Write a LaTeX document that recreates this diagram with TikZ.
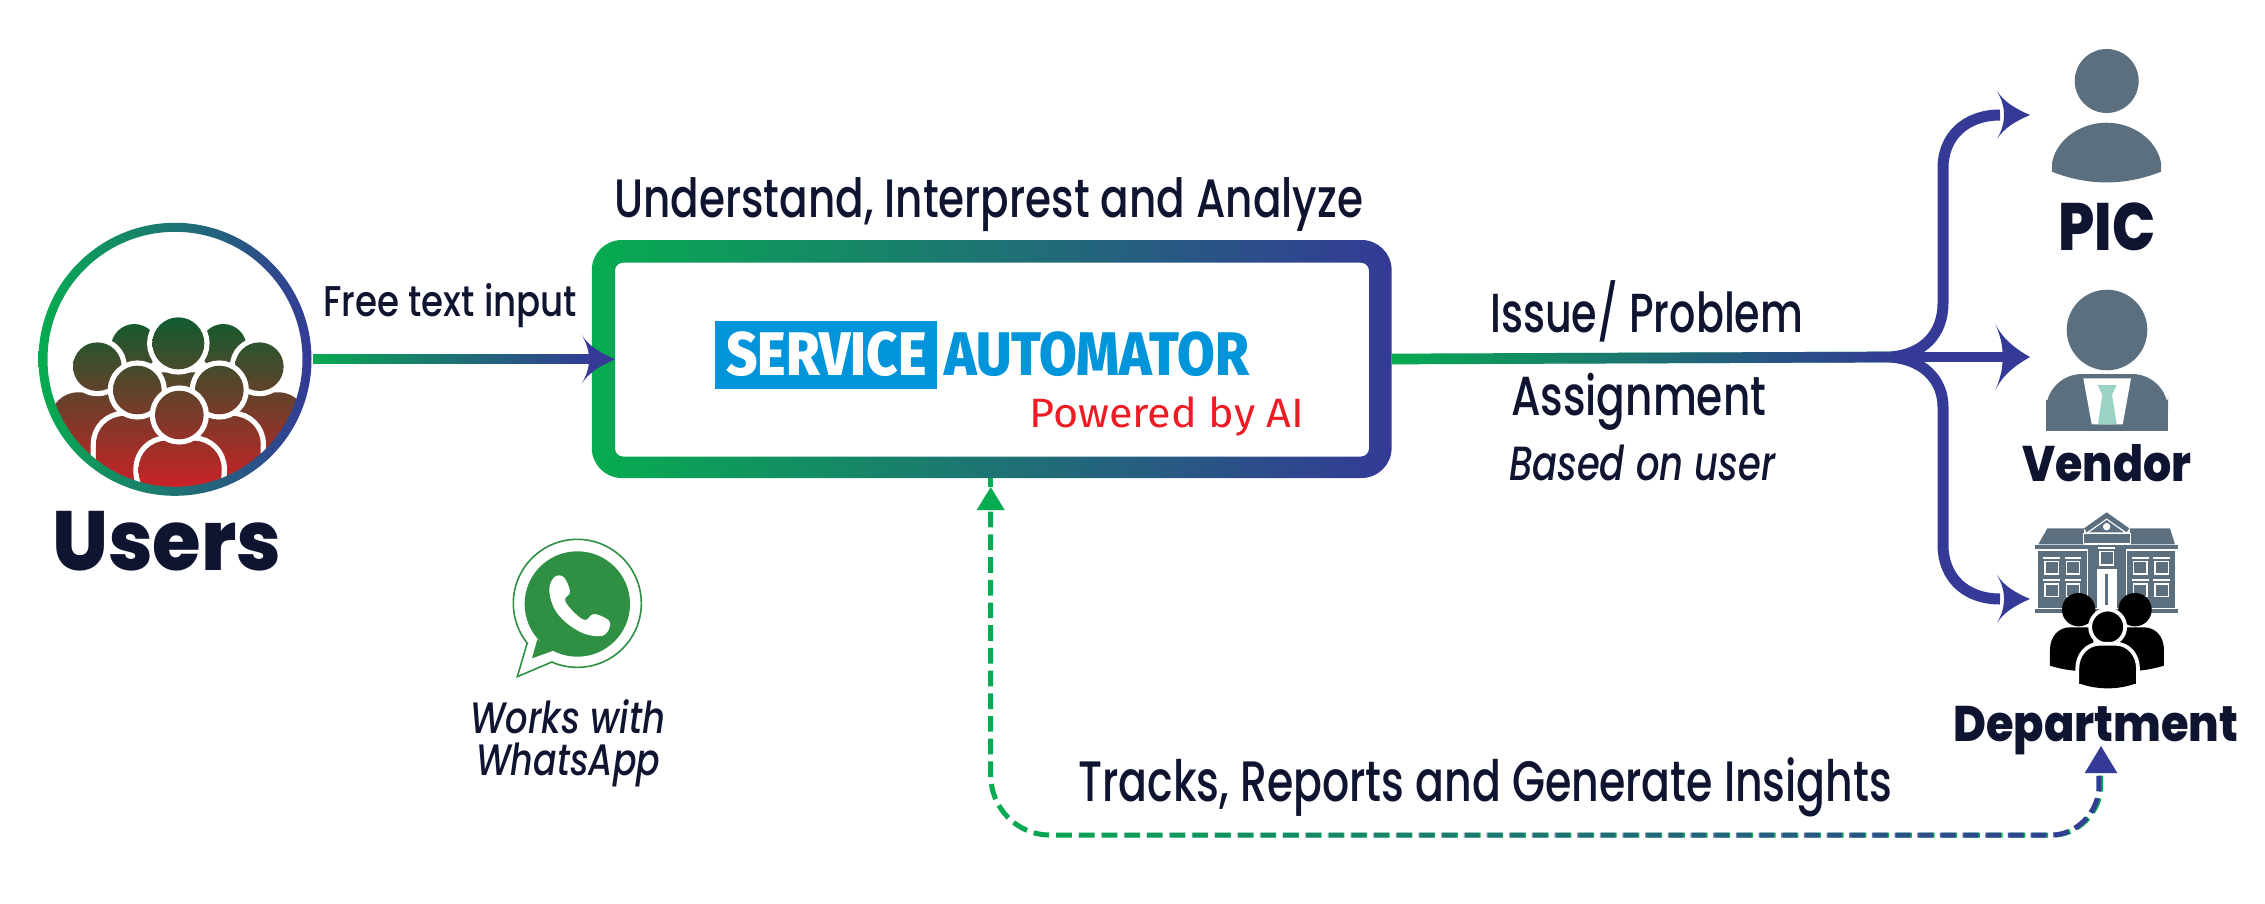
\documentclass[tikz,border=0pt]{standalone}
\usepackage{fontspec}
\usepackage{graphicx}
\usetikzlibrary{calc,fadings}
\setmainfont{Poppins}
\newfontfamily\medf[UprightFont={* Medium},ItalicFont={* Medium Italic}]{Poppins}
\newfontfamily\heavyf[UprightFont={* ExtraBold}]{Poppins}
\newfontfamily\logof{Fira Sans}
\newfontfamily\logoh[UprightFont={* ExtraBold}]{Fira Sans}
\definecolor{gstart}{HTML}{07AC50}
\definecolor{gend}{HTML}{343A96}
\definecolor{ink}{HTML}{0F1430}
\definecolor{slate}{HTML}{5C6F7F}
\definecolor{tie}{HTML}{9AD3C6}
\definecolor{logoblue}{HTML}{0095DA}
\definecolor{aired}{HTML}{ED1C24}
\definecolor{wagreen}{HTML}{2F9044}
\definecolor{pplTop}{HTML}{0F5C2E}
\definecolor{pplBot}{HTML}{C92227}
\tikzfading[name=growright,left color=transparent!100,right color=transparent!0]
\newcommand\tl[7]{\node[lab] (#1) at (#2,#3) {\resizebox{#4pt}{\height}{\fontsize{#5}{#5}\selectfont#6#7}};}
\newcommand\persona[1]{%
  \path[draw=white,line width=10.5pt] #1;
  \begin{scope}\clip #1; \shade[top color=pplTop,bottom color=pplBot] (0,350) rectangle (1100,860); \end{scope}}
\tikzset{
  lab/.style={inner sep=0pt,anchor=base west,text=ink},
  anchorbox/.style={inner sep=0pt,outer sep=0pt},
  gradring/.style={even odd rule,left color=gstart,right color=gend},
  gradbase/.style={draw=gstart,line cap=butt},
  gradtop/.style={draw=gend,line cap=butt,path fading=growright},
  branch/.style={draw=gend,line width=11pt},
  dashline/.style={line width=5pt,dash pattern=on 15.7pt off 7pt},
  barb/.pic={\fill[gend] (0,0) .. controls (-14,-6) and (-26,-13) .. (-33,-24)
     .. controls (-28,-15) and (-26,-8) .. (-26,0)
     .. controls (-26,8) and (-28,15) .. (-33,24)
     .. controls (-26,13) and (-14,6) .. (0,0) -- cycle;},
  wht/.style={draw=white,line width=1.6pt},
}
\begin{document}
\begin{tikzpicture}[x=1pt,y=-1pt]
\useasboundingbox (0,0) rectangle (2265,903);
% named anchors
\node[anchorbox,circle,minimum size=275pt] (users) at (175,359.3) {};
\node[anchorbox,rectangle,minimum width=800pt,minimum height=238pt] (box) at (991.8,359) {};
\coordinate (inTip) at (615,359.3);
\coordinate (fork) at (1890,357);
\coordinate (picTip) at (2030,115);
\coordinate (venTip) at (2030,357);
\coordinate (depTip) at (2030,599);
\coordinate (fbA) at (990.7,511.7);
\coordinate (fbB) at (2100.7,773);
\coordinate (fbTipA) at (990.7,487);
\coordinate (fbTipB) at (2101,746);

% users icon
\begin{scope}
\clip (175,359.3) circle (128pt);
\begin{scope}[x=.33333pt,y=-.33333pt,shift={(0,600)}]
\persona{(403,442) circle (23.3pt)}
\persona{(670,442) circle (23.3pt)}
\persona{[rounded corners=25pt] (380,900)--(380,517)--(690,517)--(690,900)--cycle}
\persona{(535,430) circle (26pt)}
\persona{[rounded corners=28pt] (150,900)--(150,577)--(420,577)--(420,900)--cycle}
\persona{[rounded corners=28pt] (650,900)--(650,577)--(920,577)--(920,900)--cycle}
\persona{(292,500) circle (24.3pt)}
\persona{(778,500) circle (24.3pt)}
\persona{[rounded corners=28pt] (288,900)--(288,648)--(545,648)--(545,900)--cycle}
\persona{[rounded corners=28pt] (525,900)--(525,648)--(782,648)--(782,900)--cycle}
\persona{(412,570) circle (24.3pt)}
\persona{(658,570) circle (24.3pt)}
\persona{[rounded corners=28pt] (416,900)--(416,722)--(665,722)--(665,900)--cycle}
\persona{(538,645) circle (24.3pt)}
\end{scope}
\end{scope}
\shade[gradring] (175,359.3) circle (136.5pt) (175,359.3) circle (127.5pt);
\tl{usersLabel}{52}{570}{229}{84}{\heavyf}{Users}

% main box
\shade[gradring] [rounded corners=30pt] (591.8,240) rectangle (1391.6,478) [rounded corners=8pt] (615,262.7) rectangle (1369,456.5);
\fill[logoblue] (715,321) rectangle (936.7,389);
\node[lab,text=white] (logoA) at (726.3,375.7) {\resizebox{200pt}{\height}{\fontsize{61.5}{61.5}\selectfont\logoh SERVICE}};
\node[lab,text=logoblue] (logoB) at (943.9,375.7) {\resizebox{305pt}{\height}{\fontsize{61.5}{61.5}\selectfont\logoh AUTOMATOR}};
\node[lab,text=aired] (logoC) at (1029,427) {\resizebox{275pt}{\height}{\fontsize{41}{41}\selectfont\logof Powered by AI}};
\tl{topLabel}{614}{217.3}{749}{54}{\medf}{Understand, Interprest and Analyze}

% input connector
\draw[gradbase,line width=10pt] (users.east) -- ([xshift=-25pt]inTip);
\draw[gradtop,line width=10pt] (users.east) -- ([xshift=-25pt]inTip) ($(users.east)+(-1,-8)$) ($(inTip)+(-24,8)$);
\pic at (inTip) {barb};
\tl{freeLabel}{323}{316.7}{254}{43}{\medf}{Free text input}

% output branches
\draw[branch] (fork) .. controls (1922,355) and (1943,335) .. (1943,303) -- (1943,168) .. controls (1943,137) and (1965,115) .. ([xshift=-30pt]picTip);
\draw[branch] (fork) .. controls (1922,359) and (1943,379) .. (1943,407) -- (1943,545) .. controls (1943,577) and (1965,599) .. ([xshift=-30pt]depTip);
\draw[draw=gend,line width=10.7pt] (fork) -- ([xshift=-26pt]venTip);
\draw[gradbase,line width=10.7pt] (box.east) -- (fork);
\draw[gradtop,line width=10.7pt] (box.east) -- (fork) ($(box.east)+(-1,-8)$) ($(fork)+(1,8)$);
\pic at (picTip) {barb};
\pic[xscale=1.05,yscale=1.38] at (venTip) {barb};
\pic at (depTip) {barb};
\tl{issueLabel}{1490}{332.7}{313}{55}{\medf}{Issue/ Problem}
\tl{assignLabel}{1511}{415.7}{255}{55}{\medf}{Assignment}
\tl{basedLabel}{1509}{480}{266}{48}{\medf\itshape}{Based on user}

% PIC icon
\fill[slate] (2106.7,81) circle (32pt);
\fill[slate] (2052,171.7) -- (2052,163) .. controls (2056,140) and (2080,122.7) .. (2106.5,122.7)
  .. controls (2133,122.7) and (2157,140) .. (2161,163) -- (2161,171.7)
  .. controls (2125,186) and (2088,186) .. (2052,171.7) -- cycle;
\tl{picLabel}{2058}{250.7}{97}{67}{\heavyf}{PIC}

% Vendor icon
\fill[slate] (2107,330) circle (40.3pt);
\fill[slate,rounded corners=36pt] (2046,430.7) -- (2046,374) -- (2168,374) -- (2168,430.7) [sharp corners] -- cycle;
\fill[slate] (2046,400) rectangle (2168,430.7);
\fill[white] (2083.3,378.3) -- (2131,378.3) -- (2122.7,424.3) -- (2091.7,424.3) -- cycle;
\fill[tie] (2097.7,385) -- (2116.7,385) -- (2112,395) -- (2116.7,424.3) -- (2098,424.3) -- (2102.3,395) -- cycle;
\tl{venLabel}{2022}{481.7}{169}{50}{\heavyf}{Vendor}

% Department icon
\begin{scope}[x=.33333pt,y=-.33333pt,shift={(5880,1500)}]
\fill[slate] (262,85) -- (372,85) -- (372,133) -- (235,133) -- cycle;
\fill[slate] (510,85) -- (630,85) -- (645,133) -- (510,133) -- cycle;
\fill[slate] (372,85) -- (440,37) -- (508,85) -- (500,97) -- (440,55) -- (380,97) -- cycle;
\fill[slate] (388,97) -- (440,60) -- (492,97) -- cycle;
\fill[white] (440,80) circle (3.7pt);
\filldraw[fill=slate,wht] (370,100) rectangle (511,131);
\fill[slate] (225,136) rectangle (654,148);
\fill[slate] (235,152) rectangle (380,325);
\fill[slate] (500,152) rectangle (645,325);
\fill[slate] (383,135) rectangle (497,325);
\fill[slate] (225,328) rectangle (654,338);
\foreach \wx in {255,319,521,585} {
  \foreach \wy in {185,252} {
    \draw[wht] (\wx,\wy) rectangle ++(40,37);
    \fill[white] (\wx-5,\wy-15) rectangle ++(50,6);
  }
}
\draw[wht] (420,155) rectangle (460,195);
\fill[white] (415,142) rectangle (465,148);
\fill[white] (410,208) rectangle (470,325);
\fill[slate] (435,222) rectangle (443,315);
\fill[black] (356,329) circle (16.7pt);
\fill[black] (525,329) circle (16.7pt);
\fill[black] (270,497) -- (270,450) .. controls (270,410) and (295,382) .. (330,382) -- (400,382) -- (400,505) .. controls (380,512) and (360,513) .. (345,512) .. controls (320,510) and (295,505) .. (270,497) -- cycle;
\fill[black] (612,497) -- (612,450) .. controls (612,410) and (587,382) .. (552,382) -- (480,382) -- (480,505) .. controls (500,512) and (520,513) .. (535,512) .. controls (560,510) and (585,505) .. (612,497) -- cycle;
\filldraw[black,draw=white,line width=3.8pt] (443,381) circle (17.5pt);
\filldraw[black,draw=white,line width=3.8pt] (352,553) -- (352,505) .. controls (352,465) and (380,431) .. (420,431) -- (466,431) .. controls (506,431) and (534,465) .. (534,505) -- (534,553) -- (534,560) -- (352,560) -- cycle;
\fill[white] (345,552) rectangle (540,575);
\fill[black] (358,550) .. controls (410,570) and (476,570) .. (528,550) -- cycle;
\end{scope}
\tl{depLabel}{1953}{741.7}{285}{50}{\heavyf}{Department}

% feedback connector
\draw[gstart,line width=5pt] (box.south -| fbA) -- (fbTipA);
\fill[gstart] (fbTipA) -- ++(14,23) -- ++(-28,0) -- cycle;
\fill[gend] (fbTipB) -- ++(16.3,27) -- ++(-32.6,0) -- cycle;
\draw[dashline,draw=gstart] (fbA) -- (990.7,775) .. controls (990.7,808) and (1017,835) .. (1050,835) -- (2053,835) .. controls (2078,835) and (2100.7,812) .. (2100.7,786) -- (fbB);
\draw[dashline,draw=gend,path fading=growright] (fbA) -- (990.7,775) .. controls (990.7,808) and (1017,835) .. (1050,835) -- (2053,835) .. controls (2078,835) and (2100.7,812) .. (2100.7,786) -- (fbB) (980,505) (2110,845);
\tl{trackLabel}{1078}{801}{814}{57}{\medf}{Tracks, Reports and Generate Insights}

% WhatsApp
\begin{scope}[x=.33333pt,y=-.33333pt,shift={(1320,1560)}]
\draw[wagreen,line width=1.6pt] (412,250) circle (64pt);
\fill[white] (262,368) -- (232,470) -- (338,425) -- cycle;
\draw[wagreen,line width=1.6pt,line join=miter] (262,368) -- (232,470) -- (338,425);
\fill[wagreen] (412,252) circle (52.7pt);
\fill[wagreen] (292,358) -- (276,415) -- (340,392) -- cycle;
\fill[white] plot[smooth cycle,tension=.6] coordinates {(328,205) (345,170) (372,172) (390,215) (375,240) (400,275) (435,300) (462,282) (505,300) (508,325) (485,348) (430,340) (375,305) (340,260)};
\end{scope}
\tl{waLabelA}{470}{733}{195}{44}{\medf\itshape}{Works with}
\tl{waLabelB}{476}{775}{184}{44}{\medf\itshape}{WhatsApp}
\end{tikzpicture}
\end{document}
